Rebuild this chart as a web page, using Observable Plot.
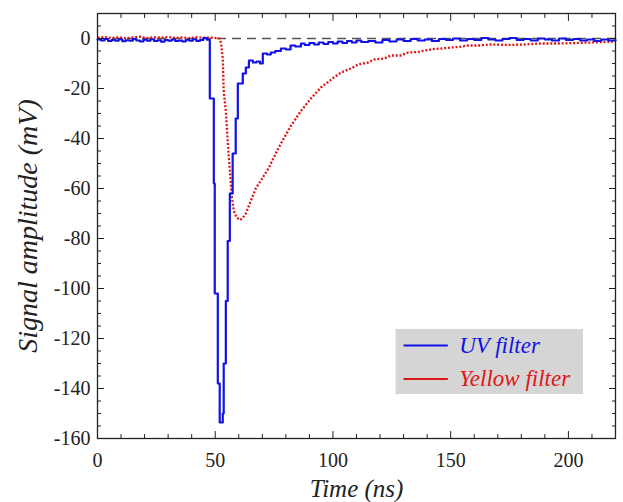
<!DOCTYPE html>
<html>
<head>
<meta charset="utf-8">
<script src="https://cdn.jsdelivr.net/npm/d3@7"></script>
<script src="https://cdn.jsdelivr.net/npm/@observablehq/plot@0.6"></script>
</head>
<body style="margin:0;background:#fff">
<div id="chart" style="position:relative"></div>
<div id="note" style="position:absolute;left:0;top:0;font:9px 'DejaVu Sans Mono';color:#fff;white-space:pre">&nbsp;</div>
<script>
// ---- data ----
// UV filter (blue, stepped trace)
const uvTime = [0,1.5,3,4.5,6,7.5,9,10.5,12,13.5,15,16.5,18,19.5,21,22.5,24,25.5,27,28.5,30,31.5,33,34.5,36,37.5,39,40.5,42,43.5,45,46.5,
  47.7,49.4,49.8,51.1,51.9,53.2,53.6,54.5,55.3,56.2,57.4,58.7,59.6,61.7,63,64.3,66,67.5,69,70.2,72,73.6,75.5,77.9,80,82,84,86.4,
  88,90,92,94,96,98,100,102,104,106,108,110,112,115,118,121,124,127,130,133,136,139,142,145,148,151,154,157,160,163,166,169,172,175,178,181,184,187,190,193,196,199,202,205,208,211,214,217,220];
const uvSignal = [-0.4,-0.8,-0.2,-1,-0.6,-0.9,-0.3,-1.1,-0.7,-0.9,-0.2,-0.8,-1.2,-0.5,-0.9,-0.3,-1,-0.7,-1.3,-0.6,-0.9,-0.4,-1,-0.8,-1.2,-0.5,-0.9,-0.3,-1,-0.6,0.2,-0.5,
  -24,-58,-102,-138,-153.6,-150,-130,-105,-81,-62,-46,-32,-18,-14,-11.6,-8.8,-9.6,-9.2,-10,-6,-6.4,-5.6,-5,-4,-4.4,-2.8,-3.2,-2,
  -2.6,-1.8,-2.4,-1.6,-2.2,-1.4,-2,-1.2,-1.8,-1,-1.6,-0.8,-1.4,-1,-1.6,-0.6,-1.2,-0.4,-1,-0.2,-0.8,-0.4,-1,-0.2,-0.6,0,-0.8,-0.2,-0.6,0.2,-0.4,-0.8,-0.2,0.2,-0.6,-0.2,-0.8,0,-0.4,-0.8,0,-0.6,-0.2,-0.8,-0.4,-1,-0.4,-0.8,-0.6];

// Yellow filter (red, dotted trace)
const yellowTime = [0,3,6,9,12,15,18,21,24,27,30,33,36,39,42,45,48,50,51.9,52.5,53.2,53.6,54.5,55.3,56.2,57,57.9,59.1,60.4,61.5,63,65.1,67.2,70.2,72.8,75.7,77.9,82.1,86.4,90.6,94.9,100.4,103.4,107.7,110.6,114.9,117.4,121.7,124.7,128.9,131.9,136.2,138.7,143,146,150.2,153.2,157.4,162,167.2,174,181.3,188,195.7,203,209.8,215,219.6];
const yellowSignal = [0.3,0.6,0.2,0.5,0.1,0.4,0.7,0.2,0.5,0.3,0.6,0.2,0.4,0.1,0.5,0.3,0.4,0.2,0,-2,-8,-21,-29,-41,-53,-63,-69,-71.6,-72.6,-72,-70,-65,-60,-55.6,-51.6,-46,-42,-35,-29,-24,-19.6,-15.6,-13.6,-12,-10.4,-9.6,-8.4,-8,-6.8,-6.8,-5.6,-5.4,-4.8,-4.2,-4,-3.6,-3.4,-2.8,-2.8,-2.4,-2.6,-2.4,-2,-2,-1.8,-1.6,-1.4,-1.2];

// ticks and labels
const xMajor = [0, 50, 100, 150, 200];
const xMinor = [10,20,30,40,60,70,80,90,110,120,130,140,160,170,180,190,210,220];
const yMajor = [-160,-140,-120,-100,-80,-60,-40,-20,0];
const yMinor = [-155,-150,-145,-135,-130,-125,-115,-110,-105,-95,-90,-85,-75,-70,-65,-55,-50,-45,-35,-30,-25,-15,-10,-5,5,10];
const xTitle = "Time (ns)";
const yTitle = "Signal amplitude (mV)";

// legend
const legendLabels = ["UV filter", "Yellow filter"];
const legendColors = ["#1212e6", "#e01515"];
const legendDash = [null, "3,2"];
const legendRowY = [-122.8, -136.2];
const legendBox = {x1: 126.8, x2: 206.4, y1: -116.4, y2: -142.4};
const legendLine = {x1: 130.2, x2: 149};
const legendTextX = 153.6;

// ---- build tables ----
const uv = uvTime.map((t, i) => ({t, v: uvSignal[i]}));
const yellow = yellowTime.map((t, i) => ({t, v: yellowSignal[i]}));
const legend = legendLabels.map((label, i) => ({label, color: legendColors[i], dash: legendDash[i], y: legendRowY[i]}));

const FF = "Liberation Serif";
const tickOnly = {fill: "none", label: null, stroke: "#222"};

const chart = Plot.plot({
  width: 623,
  height: 502,
  marginLeft: 97,
  marginRight: 8,
  marginTop: 13,
  marginBottom: 64,
  x: {domain: [0, 220], axis: null},
  y: {domain: [-160, 10], axis: null},
  marks: [
    Plot.ruleY([0], {stroke: "#555", strokeWidth: 1.6, strokeDasharray: "9,6"}),
    Plot.line(yellow, {x: "t", y: "v", stroke: legendColors[1], strokeWidth: 2.3, strokeDasharray: "2,1.8", strokeLinecap: "butt"}),
    Plot.line(uv, {x: "t", y: "v", stroke: legendColors[0], strokeWidth: 2.2, curve: "step-after"}),
    // inward ticks on all four sides
    Plot.axisX(xMajor, {anchor: "bottom", tickSize: 7, dy: -7, ...tickOnly}),
    Plot.axisX(xMinor, {anchor: "bottom", tickSize: 4, dy: -4, ...tickOnly}),
    Plot.axisX(xMajor, {anchor: "top", tickSize: 7, dy: 7, ...tickOnly}),
    Plot.axisX(xMinor, {anchor: "top", tickSize: 4, dy: 4, ...tickOnly}),
    Plot.axisY(yMajor, {anchor: "left", tickSize: 7, dx: 7, ...tickOnly}),
    Plot.axisY(yMinor, {anchor: "left", tickSize: 4, dx: 4, ...tickOnly}),
    Plot.axisY(yMajor, {anchor: "right", tickSize: 7, dx: -7, ...tickOnly}),
    Plot.axisY(yMinor, {anchor: "right", tickSize: 4, dx: -4, ...tickOnly}),
    // tick labels
    Plot.axisX(xMajor, {anchor: "bottom", tickSize: 0, tickPadding: 14, label: null, fontSize: 20, fontFamily: FF, fill: "#222", tickFormat: d => String(d)}),
    Plot.axisY(yMajor, {anchor: "left", tickSize: 0, tickPadding: 7, label: null, fontSize: 20, fontFamily: FF, fill: "#222", tickFormat: d => String(d)}),
    Plot.frame({stroke: "#222", strokeWidth: 1.3}),
    // axis titles
    Plot.text([xTitle], {text: d => d, frameAnchor: "bottom", dy: 50, lineAnchor: "middle", textAnchor: "middle", fontSize: 25, fontFamily: FF, fontStyle: "italic", fill: "#222"}),
    Plot.text([yTitle], {text: d => d, frameAnchor: "left", dx: -69, rotate: -90, textAnchor: "middle", lineAnchor: "middle", fontSize: 28, fontFamily: FF, fontStyle: "italic", fill: "#222"}),
    // legend
    Plot.rect([legendBox], {x1: "x1", x2: "x2", y1: "y1", y2: "y2", fill: "#d5d5d5"}),
    Plot.ruleY(legend, {y: "y", x1: legendLine.x1, x2: legendLine.x2, stroke: "color", strokeWidth: 2.2, strokeDasharray: "dash", strokeLinecap: "butt"}),
    Plot.text(legend, {x: legendTextX, y: "y", text: "label", fill: "color", textAnchor: "start", fontSize: 23, fontFamily: FF, fontStyle: "italic"})
  ]
});
document.getElementById("chart").appendChild(chart);
</script>
</body>
</html>
